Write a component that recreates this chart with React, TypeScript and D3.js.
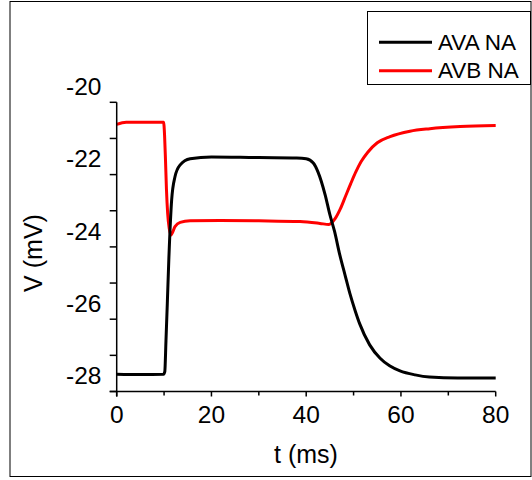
import React from "react";
import * as d3 from "d3";

const avaT = [0, 5, 9.9, 10.15, 10.4, 10.7, 11.0, 11.6, 12.3, 13.4, 15.5, 20, 30, 38, 40, 41.5, 42.5, 44, 45, 46, 47, 48.2, 49.2, 50.3, 51.3, 53.4, 55.6, 57.6, 59.8, 63, 66, 72, 80];
const avaV = [-27.52, -27.53, -27.52, -27.45, -26.6, -25.5, -24.36, -22.7, -22.06, -21.73, -21.56, -21.51, -21.53, -21.54, -21.56, -21.68, -21.93, -22.56, -23.11, -23.58, -24.17, -24.78, -25.28, -25.75, -26.13, -26.71, -27.08, -27.29, -27.43, -27.54, -27.6, -27.63, -27.63];

const avbT = [0, 2, 5, 9.9, 10.1, 10.3, 10.5, 10.75, 11.1, 11.45, 12.3, 13.4, 15.5, 21.8, 30, 38.7, 42.9, 44.8, 46.1, 47.2, 48.3, 49.4, 50.5, 51.6, 53, 55, 57.7, 61.9, 66.1, 72.5, 80];
const avbV = [-20.61, -20.55, -20.55, -20.55, -20.9, -21.6, -22.4, -23.06, -23.5, -23.67, -23.44, -23.32, -23.28, -23.27, -23.28, -23.3, -23.35, -23.38, -23.22, -22.95, -22.6, -22.25, -21.92, -21.64, -21.38, -21.12, -20.95, -20.8, -20.73, -20.67, -20.64];

const xTicks = [0, 20, 40, 60, 80];
const xMinor = [10, 30, 50, 70];
const yTicks = [-28, -26, -24, -22, -20];
const yMinor = [-27, -25, -23, -21];
const seriesNames = ["AVA NA", "AVB NA"];
const seriesColors = ["#000000", "#ff0000"];

export default function App() {
  const x = d3.scaleLinear().domain([0, 80]).range([116.7, 495.7]);
  const y = d3.scaleLinear().domain([-28, -20]).range([391.5, 102.3]);
  const line = d3
    .line<[number, number]>()
    .x((d) => x(d[0]))
    .y((d) => y(d[1]))
    .curve(d3.curveMonotoneX);
  const ava = avaT.map((t, i) => [t, avaV[i]] as [number, number]);
  const avb = avbT.map((t, i) => [t, avbV[i]] as [number, number]);
  const font = "'Liberation Sans', Arial, sans-serif";
  const x0 = x(0);
  const yb = y(-28);

  return (
    <svg
      width={532}
      height={480}
      style={{ position: "absolute", left: 0, top: 0, background: "#fff" }}
      fontFamily={font}
    >
      <rect x={0} y={0} width={532} height={480} fill="#fff" />
      <rect x={10} y={1.5} width={521} height={475} fill="none" stroke="#000" strokeWidth={1} />

      {/* data */}
      <path d={line(avb) || ""} fill="none" stroke={seriesColors[1]} strokeWidth={3} strokeLinejoin="round" />
      <path d={line(ava) || ""} fill="none" stroke={seriesColors[0]} strokeWidth={3} strokeLinejoin="round" />

      {/* y axis */}
      <line x1={x0} x2={x0} y1={y(-20)} y2={yb + 5} stroke="#000" strokeWidth={1.5} />
      {[...yTicks, ...yMinor].map((v) => (
        <line key={"yt" + v} x1={x0 - 7} x2={x0} y1={y(v)} y2={y(v)} stroke="#000" strokeWidth={1.5} />
      ))}
      {yTicks.map((v) => (
        <text key={"yl" + v} x={101.5} y={y(v) - 7.2} textAnchor="end" fontSize={24.5} fill="#000">
          {v}
        </text>
      ))}

      {/* x axis */}
      <line x1={x0 - 7} x2={x(80)} y1={yb} y2={yb} stroke="#000" strokeWidth={1.5} />
      {xTicks.map((v) => (
        <line key={"xt" + v} x1={x(v)} x2={x(v)} y1={yb} y2={yb + 5} stroke="#000" strokeWidth={1.5} />
      ))}
      {xMinor.map((v) => (
        <line key={"xm" + v} x1={x(v)} x2={x(v)} y1={yb} y2={yb + 4} stroke="#000" strokeWidth={1.5} />
      ))}
      {xTicks.map((v) => (
        <text key={"xl" + v} x={x(v)} y={422.7} textAnchor="middle" fontSize={24.5} fill="#000">
          {v}
        </text>
      ))}

      <text x={306} y={463} textAnchor="middle" fontSize={25} fill="#000">
        t (ms)
      </text>
      <text transform="translate(42,253) rotate(-90)" textAnchor="middle" fontSize={25} fill="#000">
        V (mV)
      </text>

      {/* legend */}
      <rect x={367.5} y={11.5} width={163} height={73} fill="#fff" stroke="#000" strokeWidth={1} />
      {seriesNames.map((name, i) => (
        <g key={name}>
          <line x1={379} x2={432} y1={42.3 + i * 28.4} y2={42.3 + i * 28.4} stroke={seriesColors[i]} strokeWidth={3} />
          <text x={438} y={50 + i * 28.3} fontSize={22.5} fill="#000">
            {name}
          </text>
        </g>
      ))}
    </svg>
  );
}
